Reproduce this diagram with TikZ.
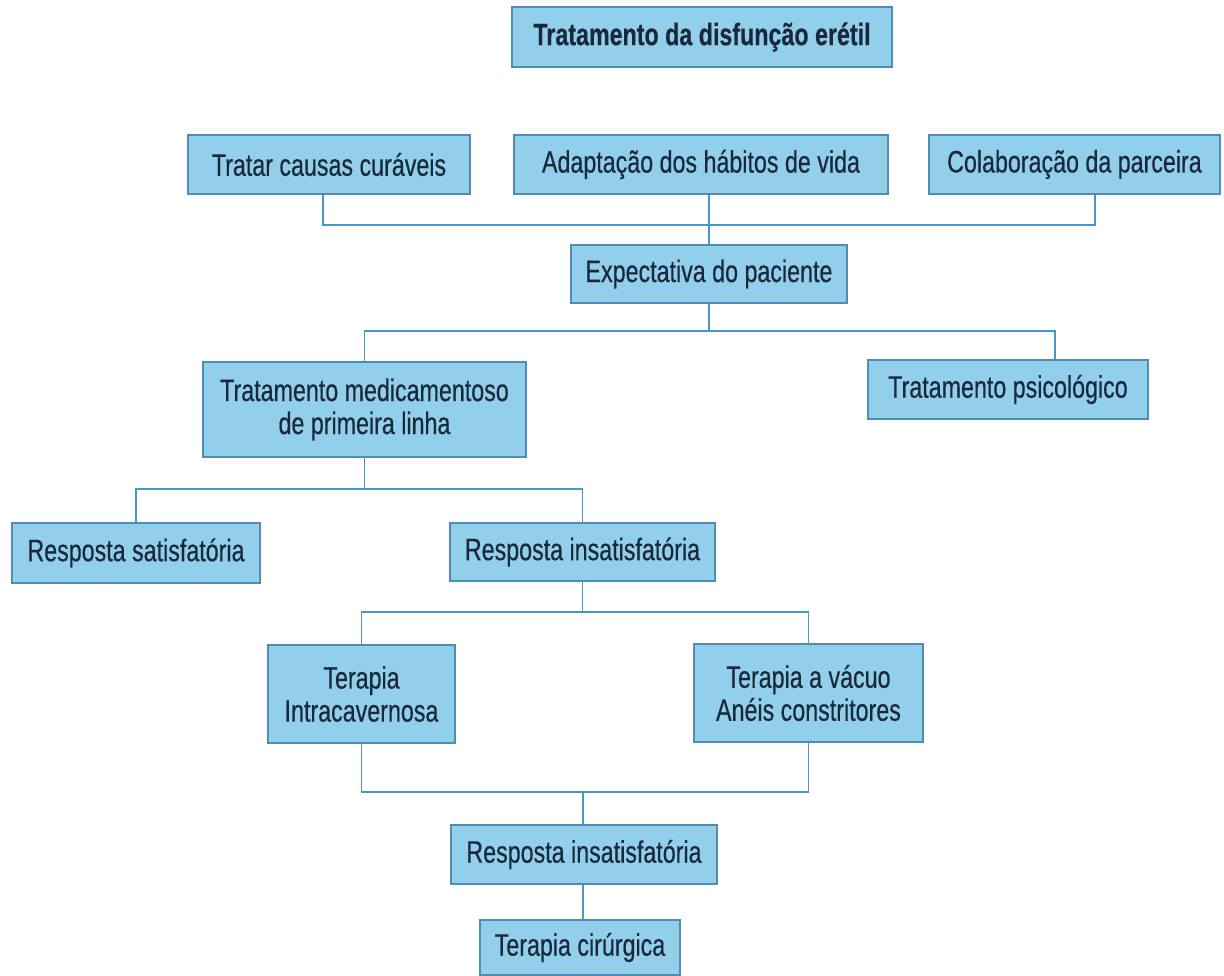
\documentclass[tikz,border=0pt]{standalone}
\usepackage{fontspec}
\setmainfont{Liberation Sans}[FakeStretch=0.75, FakeBold=0.4]
\definecolor{boxfill}{RGB}{146,207,234}
\definecolor{boxline}{RGB}{80,140,180}
\definecolor{conn}{RGB}{70,150,200}
\definecolor{txt}{RGB}{25,40,60}
\tikzset{
  box/.style={draw=boxline, line width=1.6pt, fill=boxfill, rectangle, inner sep=0pt,
    align=center, text=txt, font=\fontsize{31}{33}\selectfont},
  link/.style={draw=conn, line width=1.6pt}
}
\begin{document}
\begin{tikzpicture}[x=1pt,y=-1pt]
\useasboundingbox (0,0) rectangle (1224,976);
% nodes
\node[box, minimum width=380pt, minimum height=60pt, font=\fontsize{31}{33}\selectfont\bfseries] (title) at (702,37) {Tratamento da disfunção erétil};
\node[box, minimum width=282pt, minimum height=59pt] (tratar) at (329,164.5) {Tratar causas curáveis};
\node[box, minimum width=374pt, minimum height=59pt] (adapt) at (701,164.5) {Adaptação dos hábitos de vida};
\node[box, minimum width=291pt, minimum height=59pt] (colab) at (1074.5,164.5) {Colaboração da parceira};
\node[box, minimum width=276pt, minimum height=58pt] (expect) at (709,274) {Expectativa do paciente};
\node[box, minimum width=323pt, minimum height=95pt] (medic) at (364.5,409.5) {Tratamento medicamentoso\\de primeira linha};
\node[box, minimum width=280pt, minimum height=59pt] (psic) at (1008,389.5) {Tratamento psicológico};
\node[box, minimum width=248pt, minimum height=60pt] (satisf) at (136,553) {Resposta satisfatória};
\node[box, minimum width=265pt, minimum height=58pt] (insat1) at (582.5,552) {Resposta insatisfatória};
\node[box, minimum width=187pt, minimum height=98pt] (intrac) at (361.5,694) {Terapia\\Intracavernosa};
\node[box, minimum width=229pt, minimum height=98pt] (vacuo) at (808.5,693) {Terapia a vácuo\\Anéis constritores};
\node[box, minimum width=266pt, minimum height=59pt] (insat2) at (584,854.5) {Resposta insatisfatória};
\node[box, minimum width=200pt, minimum height=55pt] (cirurg) at (580,947.5) {Terapia cirúrgica};
% connector anchor points
\coordinate (tratarB) at ([xshift=-6pt]tratar.south);
\coordinate (colabB) at ([xshift=20.5pt]colab.south);
\coordinate (psicT) at ([xshift=47pt]psic.north);
% top row to expectation
\draw[link] (tratarB) -- (tratarB |- 0,225) -- (colabB |- 0,225) -- (colabB);
\draw[link] (adapt.south -| expect.north) -- (expect.north);
% expectation to branches
\draw[link] (medic.north) -- (medic.north |- 0,331) -- (psicT |- 0,331) -- (psicT);
\draw[link] (expect.south) -- (expect.south |- 0,331);
% first-line treatment to responses
\draw[link] (satisf.north) -- (satisf.north |- 0,489) -- (insat1.north |- 0,489) -- (insat1.north);
\draw[link] (medic.south) -- (medic.south |- 0,489);
% unsatisfactory response to therapies
\draw[link] (intrac.north) -- (intrac.north |- 0,612) -- (vacuo.north |- 0,612) -- (vacuo.north);
\draw[link] (insat1.south) -- (insat1.south |- 0,612);
% therapies to second unsatisfactory response
\draw[link] (intrac.south) -- (intrac.south |- 0,792) -- (vacuo.south |- 0,792) -- (vacuo.south);
\draw[link] ([xshift=-1pt]insat2.north |- 0,792) -- ([xshift=-1pt]insat2.north);
% to surgery
\draw[link] ([xshift=-1pt]insat2.south) -- ([xshift=-1pt]insat2.south |- cirurg.north);
\end{tikzpicture}
\end{document}
